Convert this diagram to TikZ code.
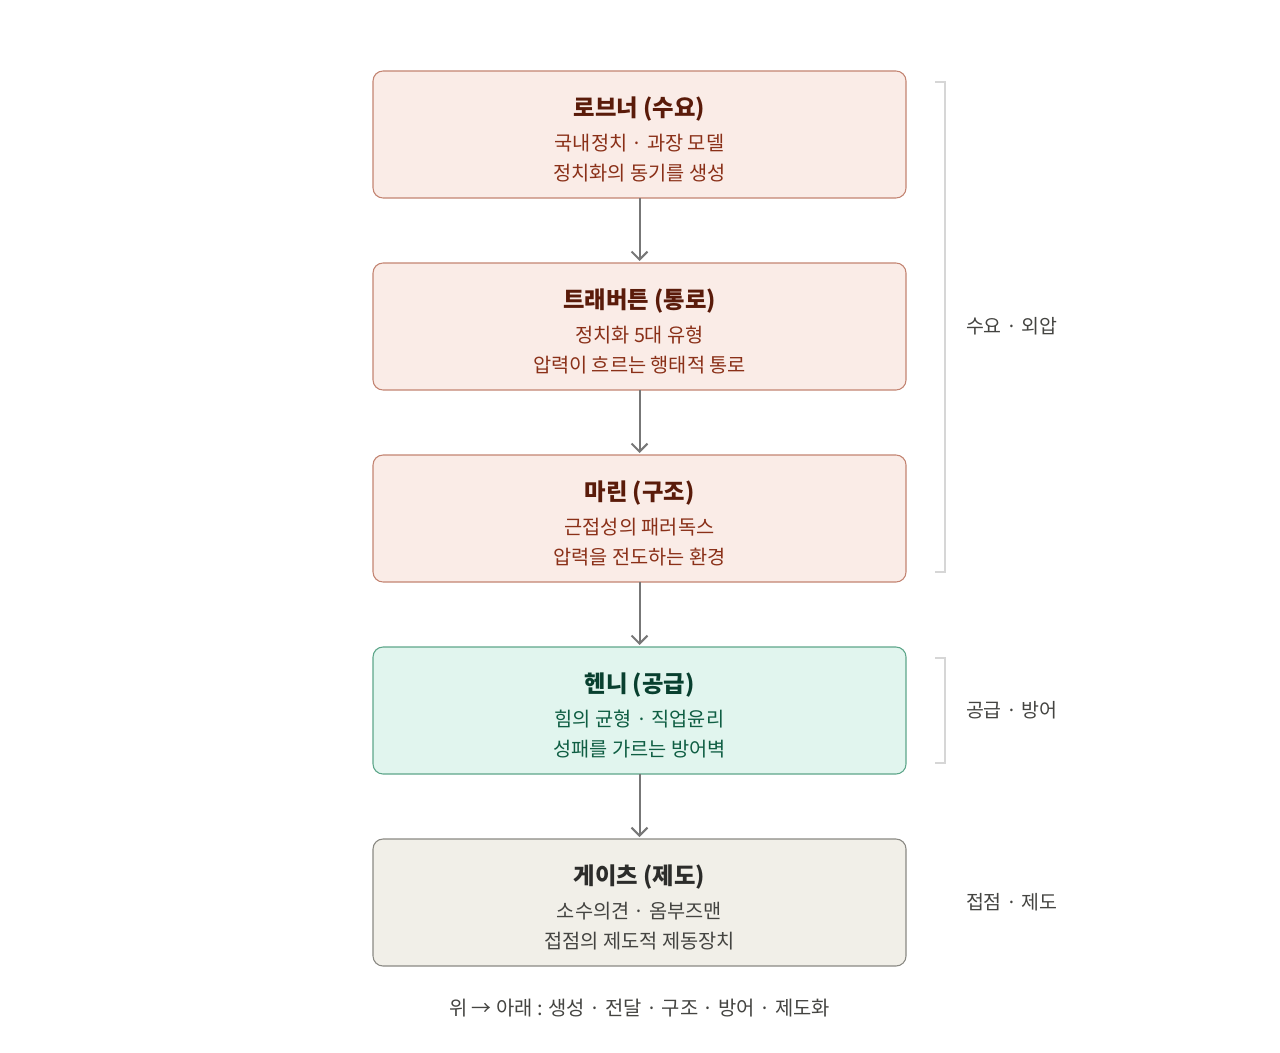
\documentclass[tikz,border=0pt]{standalone}
\usepackage{fontspec}
\setmainfont{Noto Sans CJK KR}
\usetikzlibrary{positioning,arrows.meta}

\definecolor{demandfill}{HTML}{FAECE7}
\definecolor{demanddraw}{HTML}{C38472}
\definecolor{demandtext}{HTML}{8A3018}
\definecolor{demandhead}{HTML}{5A1B0A}
\definecolor{supplyfill}{HTML}{E1F5EE}
\definecolor{supplydraw}{HTML}{5DA68A}
\definecolor{supplytext}{HTML}{0F5E43}
\definecolor{supplyhead}{HTML}{08402F}
\definecolor{instfill}{HTML}{F1EFE8}
\definecolor{instdraw}{HTML}{8A8983}
\definecolor{insttext}{HTML}{444441}
\definecolor{insthead}{HTML}{2C2C2A}
\definecolor{flowline}{HTML}{777777}
\definecolor{bracketline}{HTML}{D6D6D6}

\newcommand{\stagehead}[1]{{\fontsize{17.5pt}{21pt}\selectfont\bfseries\rule{0pt}{22pt}#1}}

\begin{document}
\begin{tikzpicture}[x=0.75pt, y=-0.75pt, node distance=48.75pt,
  every node/.style = {align=center, inner sep=0pt, outer sep=0pt},
  stagebox/.style = {shape=rectangle, rounded corners=7.5pt, draw, line width=0.8pt,
    minimum width=399.75pt, minimum height=95.25pt,
    font=\fontsize{14.8pt}{22.5pt}\selectfont},
  demand/.style = {stagebox, fill=demandfill, draw=demanddraw, text=demandtext},
  supply/.style = {stagebox, fill=supplyfill, draw=supplydraw, text=supplytext},
  inst/.style = {stagebox, fill=instfill, draw=instdraw, text=insttext},
  flow/.style = {draw=flowline, line width=1.5pt, shorten >=1.5pt,
    -{Straight Barb[length=6pt, width=12pt]}},
  bracket/.style = {draw=bracketline, line width=0.9pt},
  sidenote/.style = {anchor=west, text=insttext, font=\fontsize{14.6pt}{16pt}\selectfont}]

\useasboundingbox (0,0) rectangle (1280,1052);

% stages, top to bottom
\node[demand] (robner) at (639.5,134.5)
  {\textcolor{demandhead}{\stagehead{로브너 (수요)}}\\[3.5pt] 국내정치 · 과장 모델\\ 정치화의 동기를 생성};
\node[demand, below=of robner] (trabert)
  {\textcolor{demandhead}{\stagehead{트래버튼 (통로)}}\\[3.5pt] 정치화 5대 유형\\ 압력이 흐르는 행태적 통로};
\node[demand, below=of trabert] (marin)
  {\textcolor{demandhead}{\stagehead{마린 (구조)}}\\[3.5pt] 근접성의 패러독스\\ 압력을 전도하는 환경};
\node[supply, below=of marin] (henny)
  {\textcolor{supplyhead}{\stagehead{헨니 (공급)}}\\[3.5pt] 힘의 균형 · 직업윤리\\ 성패를 가르는 방어벽};
\node[inst, below=of henny] (gates)
  {\textcolor{insthead}{\stagehead{게이츠 (제도)}}\\[3.5pt] 소수의견 · 옴부즈맨\\ 접점의 제도적 제동장치};

% flow arrows
\draw[flow] (robner) -- (trabert);
\draw[flow] (trabert) -- (marin);
\draw[flow] (marin) -- (henny);
\draw[flow] (henny) -- (gates);

% side brackets
\coordinate (demandtop) at (935,82);
\coordinate (demandbot) at (935,572);
\coordinate (supplytop) at (935,658);
\coordinate (supplybot) at (935,763);
\draw[bracket] (demandtop) -- ++(10,0) |- (demandbot);
\draw[bracket] (supplytop) -- ++(10,0) |- (supplybot);

\node[sidenote] (demandnote) at (966,326) {수요 · 외압};
\node[sidenote] (supplynote) at (966,710) {공급 · 방어};
\node[sidenote] (instnote) at (966,902) {접점 · 제도};

% caption
\node[text=insttext, font=\fontsize{14.9pt}{16pt}\selectfont] (caption) at (639.5,1008)
  {위 → 아래 : 생성 · 전달 · 구조 · 방어 · 제도화};
\end{tikzpicture}
\end{document}
